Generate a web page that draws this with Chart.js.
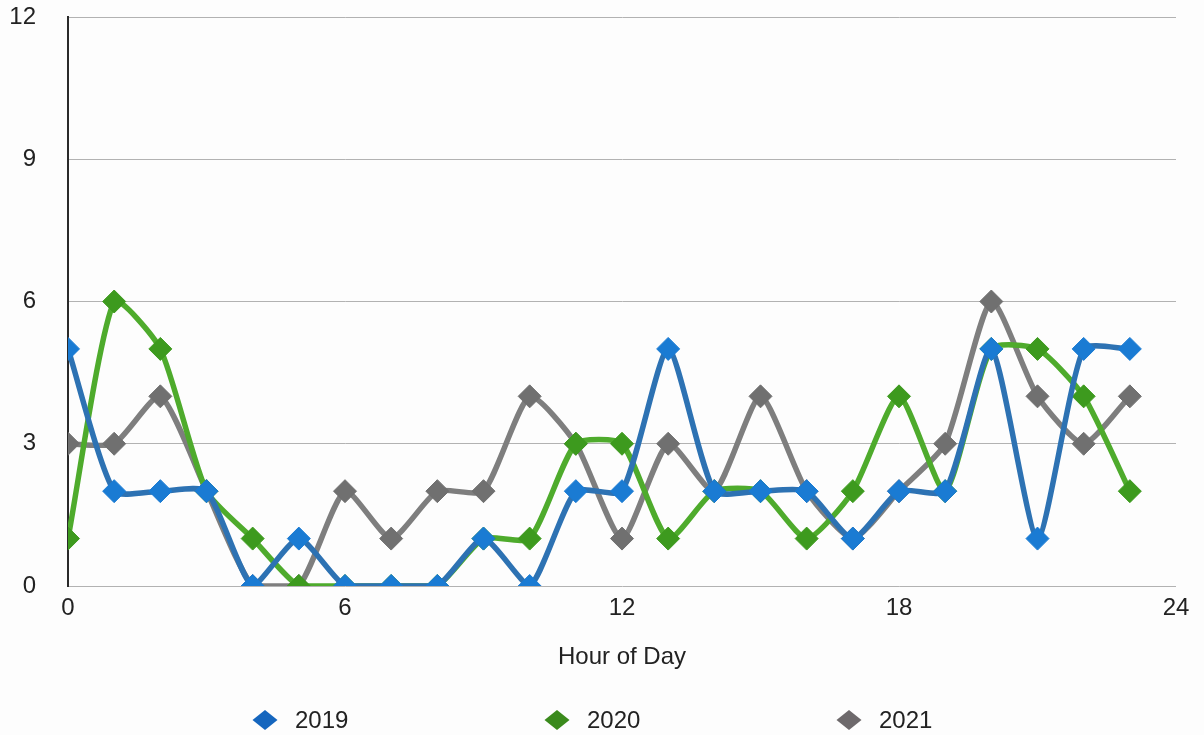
<!DOCTYPE html>
<html>
<head>
<meta charset="utf-8">
<title>Hour of Day</title>
<script src="https://cdn.jsdelivr.net/npm/chart.js@4/dist/chart.umd.min.js"></script>
<style>
  html, body { margin: 0; padding: 0; background: #fdfdfd; }
  #wrap { width: 1204px; height: 735px; position: relative; }
</style>
</head>
<body>
<div id="wrap"><canvas id="chart" width="1204" height="735"></canvas></div>
<script>
// Hours of the day (x values)
const hours = [0, 1, 2, 3, 4, 5, 6, 7, 8, 9, 10, 11, 12, 13, 14, 15, 16, 17, 18, 19, 20, 21, 22, 23];

// Counts per hour for each year
const values2019 = [5, 2, 2, 2, 0, 1, 0, 0, 0, 1, 0, 2, 2, 5, 2, 2, 2, 1, 2, 2, 5, 1, 5, 5];
const values2020 = [1, 6, 5, 2, 1, 0, 0, 0, 0, 1, 1, 3, 3, 1, 2, 2, 1, 2, 4, 2, 5, 5, 4, 2];
const values2021 = [3, 3, 4, 2, 0, 0, 2, 1, 2, 2, 4, 3, 1, 3, 2, 4, 2, 1, 2, 3, 6, 4, 3, 4];

const seriesNames = ['2019', '2020', '2021'];

// Axis ticks
const xTicks = [0, 6, 12, 18, 24];
const yTicks = [0, 3, 6, 9, 12];

const FONT = "'Liberation Sans', Arial, Helvetica, sans-serif";
const TEXT = '#222222';

const toPoints = vals => vals.map((v, i) => ({ x: hours[i], y: v }));

function series(label, vals, line, marker, legendColor) {
  return {
    label,
    data: toPoints(vals),
    borderColor: line,
    backgroundColor: marker,
    borderWidth: 5.5,
    tension: 0.2,
    pointStyle: 'rectRot',
    pointRadius: 11.5,
    pointHoverRadius: 11.5,
    pointBackgroundColor: marker,
    pointBorderColor: marker,
    pointBorderWidth: 1,
    legendColor
  };
}

// Legend drawn beneath the axis title: diamond + year label
const bottomLegend = {
  id: 'bottomLegend',
  afterDraw(chart, args, opts) {
    const ctx = chart.ctx;
    ctx.save();
    chart.data.datasets.forEach((ds, i) => {
      const cx = opts.startX + i * opts.step;
      const cy = opts.y;
      ctx.beginPath();
      ctx.moveTo(cx - opts.halfW, cy);
      ctx.lineTo(cx, cy - opts.halfH);
      ctx.lineTo(cx + opts.halfW, cy);
      ctx.lineTo(cx, cy + opts.halfH);
      ctx.closePath();
      ctx.fillStyle = ds.legendColor;
      ctx.fill();
      ctx.font = opts.font;
      ctx.fillStyle = TEXT;
      ctx.textBaseline = 'middle';
      ctx.textAlign = 'left';
      ctx.fillText(ds.label, cx + opts.textGap, cy + 1);
    });
    ctx.restore();
  }
};

new Chart(document.getElementById('chart'), {
  type: 'line',
  data: {
    datasets: [
      series(seriesNames[0], values2019, '#2d72b3', '#1a7bd3', '#1566be'),
      series(seriesNames[1], values2020, '#4eab2c', '#3d9a1e', '#3a8a1c'),
      series(seriesNames[2], values2021, '#7e7e7e', '#707070', '#6d696b')
    ]
  },
  options: {
    responsive: false,
    animation: false,
    events: [],
    layout: { padding: { left: 0, right: 28, top: 17, bottom: 63 } },
    scales: {
      x: {
        type: 'linear',
        min: xTicks[0],
        max: xTicks[xTicks.length - 1],
        afterBuildTicks: scale => { scale.ticks = xTicks.map(v => ({ value: v })); },
        afterFit: scale => { scale.height = 86; scale.paddingLeft = 10; scale.paddingRight = 14; },
        grid: { display: false, drawTicks: false },
        border: { display: false },
        ticks: { padding: 8, color: TEXT, font: { family: FONT, size: 24 } },
        title: {
          display: true,
          text: 'Hour of Day',
          color: TEXT,
          font: { family: FONT, size: 24 },
          padding: { top: 20, bottom: 0 }
        }
      },
      y: {
        min: yTicks[0],
        max: yTicks[yTicks.length - 1],
        afterBuildTicks: scale => { scale.ticks = yTicks.map(v => ({ value: v })); },
        afterFit: scale => { scale.width = 68; scale.paddingTop = 12; scale.paddingBottom = 12; },
        grid: { color: '#b2b2b2', lineWidth: 1, drawTicks: false },
        border: { display: true, color: '#2a2a2a', width: 2 },
        ticks: { padding: 32, color: TEXT, font: { family: FONT, size: 24 } }
      }
    },
    plugins: {
      legend: { display: false },
      tooltip: { enabled: false },
      bottomLegend: {
        startX: 265,
        step: 292,
        y: 720,
        halfW: 12.5,
        halfH: 10,
        textGap: 30,
        font: '24px ' + FONT
      }
    }
  },
  plugins: [bottomLegend]
});
</script>
</body>
</html>
